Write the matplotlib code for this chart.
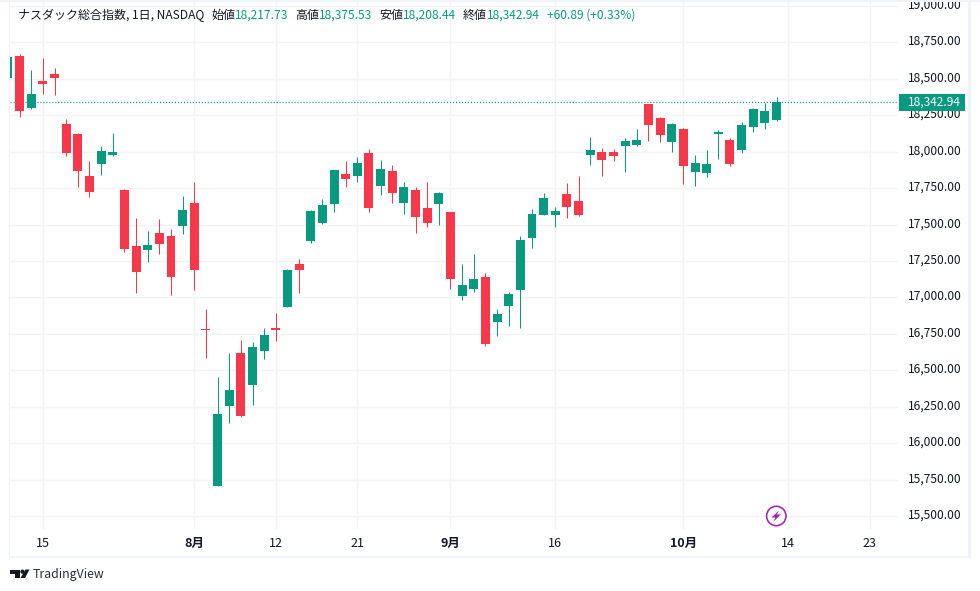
import matplotlib
matplotlib.use("Agg")
import matplotlib.pyplot as plt
import numpy as np
from matplotlib.patches import Circle, Polygon, Rectangle
from matplotlib.ticker import StrMethodFormatter
from matplotlib.transforms import ScaledTranslation

# daily bars, the first one is cut off by the left edge of the pane
opens = [18505, 18656, 18299, 18484, 18532, 18189, 18121, 17833, 17915, 17977, 17736,
         17352, 17325, 17441, 17421, 17489, 17647, 16783, 15706, 16254, 16618, 16399,
         16632, 16790, 16934, 17229, 17387, 17510, 17640, 17846, 17833, 17990, 17764,
         17867, 17647, 17736, 17613, 17640, 17585, 17009, 17057, 17140, 16831, 16941,
         17050, 17407, 17565, 17565, 17709, 17661, 17977, 17997, 17997, 18038, 18045,
         18326, 18230, 18066, 18155, 17860, 17853, 18121, 18080, 18011, 18169, 18196,
         18217.73]
highs = [18655, 18670, 18560, 18642, 18574, 18224, 18128, 17936, 18038, 18128, 17743,
         17544, 17455, 17537, 17469, 17695, 17791, 16920, 16453, 16618, 16707, 16694,
         16790, 16892, 17194, 17263, 17599, 17675, 17874, 17936, 17963, 18018, 17942,
         17908, 17791, 17757, 17791, 17723, 17585, 17229, 17297, 17167, 16920, 17037,
         17421, 17606, 17716, 17620, 17784, 17832, 18100, 18025, 18018, 18093, 18155,
         18326, 18237, 18196, 18162, 17977, 18011, 18148, 18093, 18203, 18299, 18333,
         18375.53]
lows = [18500, 18237, 18292, 18395, 18388, 17970, 17757, 17688, 17839, 17970, 17311,
        17030, 17242, 17297, 17016, 17435, 17050, 16584, 15706, 16138, 16179, 16261,
        16577, 16700, 16934, 17030, 17373, 17503, 17585, 17757, 17791, 17585, 17702,
        17647, 17572, 17441, 17483, 17496, 17057, 16982, 17037, 16666, 16735, 16803,
        16790, 17338, 17565, 17483, 17544, 17558, 17908, 17832, 17936, 17860, 18038,
        18073, 18066, 17997, 17778, 17764, 17826, 17949, 17901, 17990, 18134, 18155,
        18208.44]
closes = [18649, 18278, 18395, 18464, 18505, 17990, 17867, 17723, 18004, 17997, 17332,
          17174, 17359, 17366, 17140, 17599, 17188, 16776, 16200, 16364, 16186, 16659,
          16742, 16776, 17188, 17188, 17592, 17633, 17874, 17812, 17922, 17613, 17881,
          17716, 17757, 17551, 17510, 17716, 17126, 17085, 17126, 16680, 16886, 17023,
          17393, 17572, 17682, 17592, 17620, 17565, 18011, 17942, 17970, 18073, 18080,
          18182, 18114, 18189, 17901, 17922, 17915, 18134, 17915, 18182, 18292, 18278,
          18342.94]

date_ticks = [2, 15, 22, 29, 37, 46, 57, 66, 73]
date_labels = ["15", "8月", "12", "21", "9月", "16", "10月", "14", "23"]
month_labels = ["8月", "9月", "10月"]
price_ticks = np.arange(15500, 19001, 250)

GREEN = "#089981"
RED = "#F7374A"
GRID = "#F2F3F5"
FRAME = "#F0F3FA"
INK = "#131722"
FONT = ["Noto Sans CJK JP", "DejaVu Sans"]

plt.rcParams["font.family"] = FONT
W, H = 980, 591


def px(size):
    return size * 0.72


fig = plt.figure(figsize=(W / 100, H / 100), dpi=100, facecolor="white")
ax = fig.add_axes([10 / W, (H - 529) / H, 888 / W, 527 / H])
ax.set_xlim(-0.824, 75.43)
ax.set_ylim(15411, 19026.5)
ax.set_axisbelow(True)
ax.grid(True, color=GRID, lw=1)
for side in ax.spines.values():
    side.set_visible(False)

xs = np.arange(len(opens)) - 1
opens_a, closes_a = np.array(opens), np.array(closes)
colors = [GREEN if c >= o else RED for o, c in zip(opens, closes)]
ax.vlines(xs, lows, highs, colors=colors, lw=px(1), zorder=3)
ax.bar(xs, np.maximum(np.abs(closes_a - opens_a), 7), bottom=np.minimum(opens_a, closes_a),
       width=0.77, color=colors, lw=0, zorder=4)

last = closes[-1]
ax.axhline(last, color=GREEN, lw=px(1.3), ls=(0, (0.8, 1.5)), zorder=2)

ax.yaxis.tick_right()
ax.set_yticks(price_ticks)
ax.yaxis.set_major_formatter(StrMethodFormatter("{x:,.2f}"))
ax.tick_params(axis="y", length=0, pad=7.2, labelsize=px(12), labelcolor=INK)
raise_labels = ScaledTranslation(0, 1.7 / 72, fig.dpi_scale_trans)
for lab in ax.get_yticklabels():
    lab.set_transform(lab.get_transform() + raise_labels)
ax.set_xticks(date_ticks)
ax.set_xticklabels(date_labels)
ax.tick_params(axis="x", length=0, pad=5.7, labelsize=px(12.5), labelcolor=INK)
for lab in ax.get_xticklabels():
    if lab.get_text() in month_labels:
        lab.set_fontweight("bold")

# overlay in pixel coordinates for the frame, header and logos
top = fig.add_axes([0, 0, 1, 1], facecolor="none")
top.set_xlim(0, W)
top.set_ylim(H, 0)
top.axis("off")
top.add_patch(Rectangle((0, 0), W, 2, fc=FRAME, ec="none"))
top.add_patch(Rectangle((9, 0), 1, 558, fc=FRAME, ec="none"))
top.add_patch(Rectangle((9, 556), 962, 2, fc=FRAME, ec="none"))
top.add_patch(Rectangle((968, 0), 3, 558, fc=FRAME, ec="none"))

# last price tag
top.add_patch(Rectangle((899, 94), 66, 17, fc=GREEN, ec="none"))
top.text(934, 101.8, f"{last:,.2f}", fontsize=px(12), color="white", ha="center", va="center")

header = [
    (18, "ナスダック総合指数, 1日, NASDAQ", INK),
    (211, "始値", INK), (235, "18,217.73", GREEN),
    (295, "高値", INK), (319, "18,375.53", GREEN),
    (379, "安値", INK), (403, "18,208.44", GREEN),
    (463, "終値", INK), (487, "18,342.94", GREEN),
    (547, "+60.89 (+0.33%)", GREEN),
]
for x0, txt, col in header:
    top.text(x0, 15.5, txt, fontsize=px(12), color=col, va="center", ha="left")

# lightning badge
top.add_patch(Circle((776.3, 516), 9.7, fc="white", ec="#9C27B0", lw=px(1.6)))
top.add_patch(Polygon([(779, 510.5), (771.5, 517.5), (775.3, 517.5), (773.5, 521.5),
                       (781, 514.5), (777, 514.5)], fc="#9C27B0", ec="none"))

# TradingView logo
top.add_patch(Polygon([(10, 569.5), (19.5, 569.5), (19.5, 578), (15, 578), (15, 573.5), (10, 573.5)],
                      fc=INK, ec="none"))
top.add_patch(Circle((22.5, 571.7), 2.1, fc=INK, ec="none"))
top.add_patch(Polygon([(25.5, 569.5), (29.5, 569.5), (25, 578), (20.5, 578)], fc=INK, ec="none"))
top.text(33, 574.5, "TradingView", fontsize=px(12.3), color="#2A2E39", va="center", ha="left")

fig.savefig("out.png", dpi=100)
